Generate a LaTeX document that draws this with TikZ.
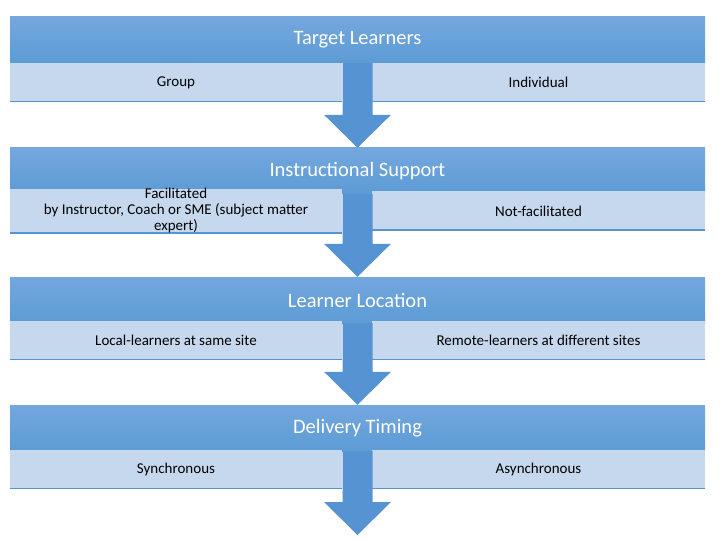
\documentclass[tikz,border=0pt]{standalone}
\usepackage{fontspec}
\setmainfont{Carlito}
\usetikzlibrary{calc}
\definecolor{hdrtop}{RGB}{116,167,222}
\definecolor{hdrbot}{RGB}{92,155,213}
\definecolor{optfill}{RGB}{198,216,238}
\definecolor{arrblue}{RGB}{86,147,211}
\tikzset{
  hdr/.style={minimum width=695pt, minimum height=46pt, inner sep=0pt,
    top color=hdrtop, bottom color=hdrbot, text=white,
    font=\fontsize{20.5}{24}\selectfont},
  opt/.style={minimum height=39pt, inner sep=0pt, fill=optfill, align=center,
    font=\fontsize{15}{16}\selectfont,
    path picture={\draw[arrblue, line width=2pt]
      (path picture bounding box.south west) -- (path picture bounding box.south east);}},
  optl/.style={opt, minimum width=332pt},
  optr/.style={opt, minimum width=333pt}
}
% block arrow from a header bar down to a point
\newcommand\flowarrow[2]{%
  \fill[arrblue] ($(#1.south)+(-15,0)$) -- ($(#2)+(-15,-33)$) -- ($(#2)+(-33.5,-33)$)
    -- (#2) -- ($(#2)+(33.5,-33)$) -- ($(#2)+(15,-33)$) -- ($(#1.south)+(15,0)$) -- cycle;}
\begin{document}
\begin{tikzpicture}[x=1pt, y=-1pt]
  \useasboundingbox (0,0) rectangle (720,540);
  \def\cx{357.5}
  \def\lx{176}
  \def\rx{538.5}
  % section 1
  \node[hdr] (tl) at (\cx,40) {Target Learners};
  \node[optl] (grp) at (\lx,82.5) {Group};
  \node[optr] (ind) at (\rx,82.5) {Individual};
  % section 2
  \node[hdr] (is) at (\cx,171) {Instructional Support};
  \node[optl] (fac) at (\lx,211) {Facilitated\\by Instructor, Coach or SME (subject matter\\expert)};
  \node[optr] (nfac) at (\rx,211) {Not-facilitated};
  % section 3
  \node[hdr] (ll) at (\cx,300) {Learner Location};
  \node[optl] (loc) at (\lx,340) {Local-learners at same site};
  \node[optr] (rem) at (\rx,340) {Remote-learners at different sites};
  % section 4
  \node[hdr] (dt) at (\cx,428) {Delivery Timing};
  \node[optl] (syn) at (\lx,469) {Synchronous};
  \node[optr] (asyn) at (\rx,469) {Asynchronous};
  \coordinate (end) at (\cx,535);
  % arrows
  \flowarrow{tl}{is.north}
  \flowarrow{is}{ll.north}
  \flowarrow{ll}{dt.north}
  \flowarrow{dt}{end}
\end{tikzpicture}
\end{document}
